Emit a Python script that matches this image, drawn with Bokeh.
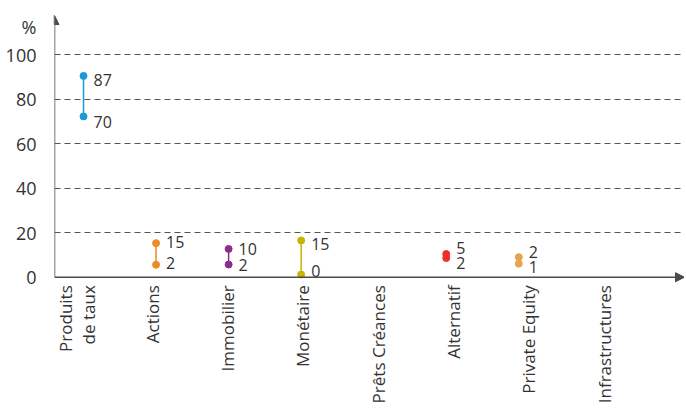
import math
from bokeh.plotting import figure
from bokeh.models import (ColumnDataSource, FixedTicker, Range1d, Arrow, NormalHead)
from bokeh.core.properties import value
from bokeh.embed import file_html
from bokeh.resources import INLINE

# ---- data -------------------------------------------------------------
categories = ["Produits\nde taux", "Actions", "Immobilier", "Monétaire",
              "Prêts Créances", "Alternatif", "Private Equity", "Infrastructures"]
high_text = ["87", "15", "10", "15", None, "5", "2", None]
low_text = ["70", "2", "2", "0", None, "2", "1", None]
# marker positions as drawn in the picture (%)
high_pos = [90.4, 15.3, 12.7, 16.5, None, 10.4, 9.0, None]
low_pos = [72.2, 5.6, 5.7, 1.2, None, 8.6, 6.1, None]
# label positions as drawn in the picture (%)
high_label_y = [88.6, 15.6, 12.7, 15.1, None, 12.9, 11.2, None]
low_label_y = [69.5, 6.2, 5.7, 2.7, None, 6.2, 4.5, None]
colors = ["#1a9ad6", "#ef8a28", "#8c2d8c", "#c8b300", None, "#e8322a", "#e5a450", None]
y_ticks = [0, 20, 40, 60, 80, 100]
unit_label = "%"

FONT = "Open Sans"
TEXT = "#333333"
AXIS = "#4a4a4a"

XS, XE = -0.40, 8.284
YS, YE = -58.95, 124.25
UNIT_POS = 112.5

p = figure(width=684, height=408, output_backend="svg", toolbar_location=None,
           x_range=Range1d(XS, XE), y_range=Range1d(YS, YE),
           x_axis_location=None, min_border_left=54, min_border_right=0,
           min_border_top=0, min_border_bottom=0)
p.extra_x_ranges = {"labels": Range1d(-0.300, 8.067)}
p.outline_line_color = None
p.background_fill_color = "white"
p.border_fill_color = "white"
p.xgrid.visible = False

yax = p.yaxis[0]
yax.ticker = FixedTicker(ticks=y_ticks + [UNIT_POS])
yax.major_label_overrides = {UNIT_POS: unit_label}
yax.axis_line_color = None
yax.major_tick_line_color = None
yax.minor_tick_line_color = None
yax.major_label_standoff = 12
yax.major_label_text_font = FONT
yax.major_label_text_font_size = "18px"
yax.major_label_text_color = TEXT

p.ygrid.ticker = FixedTicker(ticks=[t for t in y_ticks if t > 0])
p.ygrid.grid_line_color = "#555555"
p.ygrid.grid_line_dash = "6 4"
p.ygrid.grid_line_width = 1

# ---- ranges (segments + dots) ----------------------------------------
idx = [i for i, c in enumerate(colors) if c is not None]
src = ColumnDataSource(dict(
    x=idx,
    lo=[low_pos[i] for i in idx],
    hi=[high_pos[i] for i in idx],
    lo_ly=[low_label_y[i] for i in idx],
    hi_ly=[high_label_y[i] for i in idx],
    lo_t=[low_text[i] for i in idx],
    hi_t=[high_text[i] for i in idx],
    color=[colors[i] for i in idx],
))
p.segment(x0="x", y0="lo", x1="x", y1="hi", source=src, line_color="color", line_width=1.5)
p.scatter(x="x", y="lo", source=src, size=7, fill_color="color", line_color="color")
p.scatter(x="x", y="hi", source=src, size=7, fill_color="color", line_color="color")
for col_y, col_t in (("hi_ly", "hi_t"), ("lo_ly", "lo_t")):
    p.text(x="x", y=col_y, text=col_t, source=src, x_offset=10,
           text_align="left", text_baseline="middle",
           text_font=value(FONT), text_font_size="16px", text_color=TEXT)

# ---- category labels --------------------------------------------------
cat_src = ColumnDataSource(dict(x=list(range(len(categories))),
                                y=[0] * len(categories), t=categories))
p.text(x="x", y="y", text="t", source=cat_src, x_range_name="labels",
       angle=math.pi / 2, y_offset=8, text_align="right", text_baseline="middle",
       text_font=value(FONT), text_font_size="17px", text_color=TEXT,
       text_line_height=1.0)

# ---- axes with arrows --------------------------------------------------
p.add_layout(Arrow(x_start=XS, y_start=0, x_end=XS, y_end=117.5,
                   line_color=AXIS, line_width=1.5,
                   end=NormalHead(size=9, fill_color=AXIS, line_color=AXIS)))
p.add_layout(Arrow(x_start=XS, y_start=0, x_end=XE, y_end=0,
                   line_color=AXIS, line_width=1.5,
                   end=NormalHead(size=9, fill_color=AXIS, line_color=AXIS)))

open("out.html", "w").write(file_html(p, INLINE))
